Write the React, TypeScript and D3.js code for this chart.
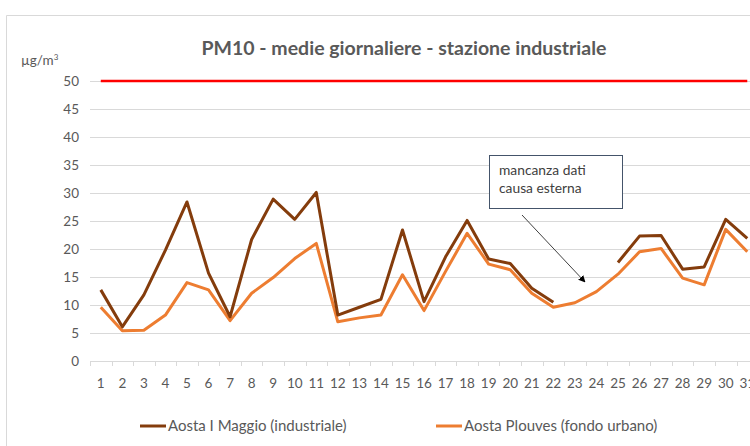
import React, { useEffect, useRef } from "react";
import * as d3 from "d3";

const days: string[] = Array.from({ length: 31 }, (_, i) => String(i + 1));
const yTicks: number[] = [0, 5, 10, 15, 20, 25, 30, 35, 40, 45, 50];

// Aosta I Maggio (industriale) - missing on 23 and 24
const maggio: (number | null)[] = [
  12.7, 6.1, 11.8, 19.8, 28.4, 15.7, 7.9, 21.7, 28.9, 25.3, 30.1, 8.2, 9.6, 11.0,
  23.4, 10.6, 18.6, 25.1, 18.2, 17.4, 13.0, 10.5, null, null, 17.6, 22.3, 22.4,
  16.4, 16.8, 25.3, 21.9,
];
// Aosta Plouves (fondo urbano)
const plouves: (number | null)[] = [
  9.6, 5.4, 5.5, 8.2, 14.0, 12.7, 7.2, 12.1, 14.9, 18.3, 21.0, 7.0, 7.7, 8.2, 15.4,
  9.0, 16.0, 22.8, 17.3, 16.3, 12.1, 9.6, 10.4, 12.4, 15.5, 19.5, 20.1, 14.8, 13.6,
  23.5, 19.5,
];
const limit: number[] = days.map(() => 50);

const seriesNames = ["Aosta I Maggio (industriale)", "Aosta Plouves (fondo urbano)"];

function App() {
  const ref = useRef<HTMLDivElement>(null);

  useEffect(() => {
    const width = 750;
    const height = 446;
    const font = "Lato, 'Open Sans', sans-serif";
    const textColor = "#595959";

    const svg = d3
      .select(ref.current)
      .append("svg")
      .attr("width", width)
      .attr("height", height)
      .style("position", "absolute")
      .style("left", 0)
      .style("top", 0)
      .style("font-family", font);

    // chart frame (cropped on the right)
    svg
      .append("path")
      .attr("d", `M6.5,${height} V15.5 H${width}`)
      .attr("fill", "none")
      .attr("stroke", "#d9d9d9");

    const x = d3.scaleBand<string>().domain(days).range([90, 90 + 31 * 21.55]).padding(0);
    const y = d3.scaleLinear().domain([0, 50]).range([361, 81]);
    const cx = (d: string) => (x(d) as number) + x.bandwidth() / 2;

    // gridlines
    svg
      .append("g")
      .selectAll("line")
      .data(yTicks)
      .join("line")
      .attr("x1", 90)
      .attr("x2", x.range()[1])
      .attr("y1", (d) => Math.round(y(d)) + 0.5)
      .attr("y2", (d) => Math.round(y(d)) + 0.5)
      .attr("stroke", "#d9d9d9")
      .attr("stroke-width", 1);

    // y labels
    svg
      .append("g")
      .selectAll("text")
      .data(yTicks)
      .join("text")
      .attr("x", 79)
      .attr("y", (d) => y(d))
      .attr("dy", "0.35em")
      .attr("text-anchor", "end")
      .attr("font-size", 13.5)
      .attr("fill", textColor)
      .text((d) => d);

    // x tick marks between categories
    const bounds = days.map((d) => x(d) as number).concat([x.range()[1]]);
    svg
      .append("g")
      .selectAll("line")
      .data(bounds)
      .join("line")
      .attr("x1", (d) => Math.round(d) + 0.5)
      .attr("x2", (d) => Math.round(d) + 0.5)
      .attr("y1", 361)
      .attr("y2", 366)
      .attr("stroke", "#d9d9d9");

    // x labels
    svg
      .append("g")
      .selectAll("text")
      .data(days)
      .join("text")
      .attr("x", (d) => cx(d))
      .attr("y", 388)
      .attr("text-anchor", "middle")
      .attr("font-size", 13.5)
      .attr("fill", textColor)
      .text((d) => d);

    const line = d3
      .line<number | null>()
      .defined((d) => d != null)
      .x((_, i) => cx(days[i]))
      .y((d) => y(d as number));

    svg
      .append("path")
      .attr("d", line(limit))
      .attr("fill", "none")
      .attr("stroke", "#ff0000")
      .attr("stroke-width", 2.5);

    svg
      .append("path")
      .attr("d", line(plouves))
      .attr("fill", "none")
      .attr("stroke", "#ed7d31")
      .attr("stroke-width", 3)
      .attr("stroke-linejoin", "round");

    svg
      .append("path")
      .attr("d", line(maggio))
      .attr("fill", "none")
      .attr("stroke", "#843c0c")
      .attr("stroke-width", 3)
      .attr("stroke-linejoin", "round");

    // title
    svg
      .append("text")
      .attr("x", 404)
      .attr("y", 55)
      .attr("text-anchor", "middle")
      .attr("font-size", 19.5)
      .attr("font-weight", "bold")
      .attr("fill", textColor)
      .text("PM10 - medie giornaliere - stazione industriale");

    // unit label
    const unit = svg
      .append("text")
      .attr("x", 21)
      .attr("y", 65)
      .attr("font-size", 13.5)
      .attr("fill", textColor);
    unit.append("tspan").text("µg/m");
    unit.append("tspan").attr("font-size", 8).attr("dy", -5).text("3");

    // annotation
    svg
      .append("defs")
      .append("marker")
      .attr("id", "arrow")
      .attr("viewBox", "0 0 10 10")
      .attr("refX", 9)
      .attr("refY", 5)
      .attr("markerWidth", 7)
      .attr("markerHeight", 7)
      .attr("orient", "auto")
      .append("path")
      .attr("d", "M0,0 L10,5 L0,10 z")
      .attr("fill", "#000");

    svg
      .append("line")
      .attr("x1", 522)
      .attr("y1", 215)
      .attr("x2", 585)
      .attr("y2", 282)
      .attr("stroke", "#404040")
      .attr("stroke-width", 1)
      .attr("marker-end", "url(#arrow)");

    svg
      .append("rect")
      .attr("x", 489.5)
      .attr("y", 155.5)
      .attr("width", 133)
      .attr("height", 53)
      .attr("fill", "#fff")
      .attr("stroke", "#44546a")
      .attr("stroke-width", 1);

    const note = svg
      .append("text")
      .attr("x", 499)
      .attr("font-size", 13.8)
      .attr("fill", "#404040");
    note.append("tspan").attr("x", 499).attr("y", 175).text("mancanza dati");
    note.append("tspan").attr("x", 499).attr("y", 193).text("causa esterna");

    // legend
    const legend = [
      { name: seriesNames[0], color: "#843c0c", x: 140 },
      { name: seriesNames[1], color: "#ed7d31", x: 436 },
    ];
    const lg = svg.append("g").selectAll("g").data(legend).join("g");
    lg.append("line")
      .attr("x1", (d) => d.x)
      .attr("x2", (d) => d.x + 26)
      .attr("y1", 426)
      .attr("y2", 426)
      .attr("stroke", (d) => d.color)
      .attr("stroke-width", 3);
    lg.append("text")
      .attr("x", (d) => d.x + 28)
      .attr("y", 426)
      .attr("dy", "0.35em")
      .attr("font-size", 15)
      .attr("fill", textColor)
      .text((d) => d.name);

    return () => {
      svg.remove();
    };
  }, []);

  return <div ref={ref}></div>;
}

export default App;
